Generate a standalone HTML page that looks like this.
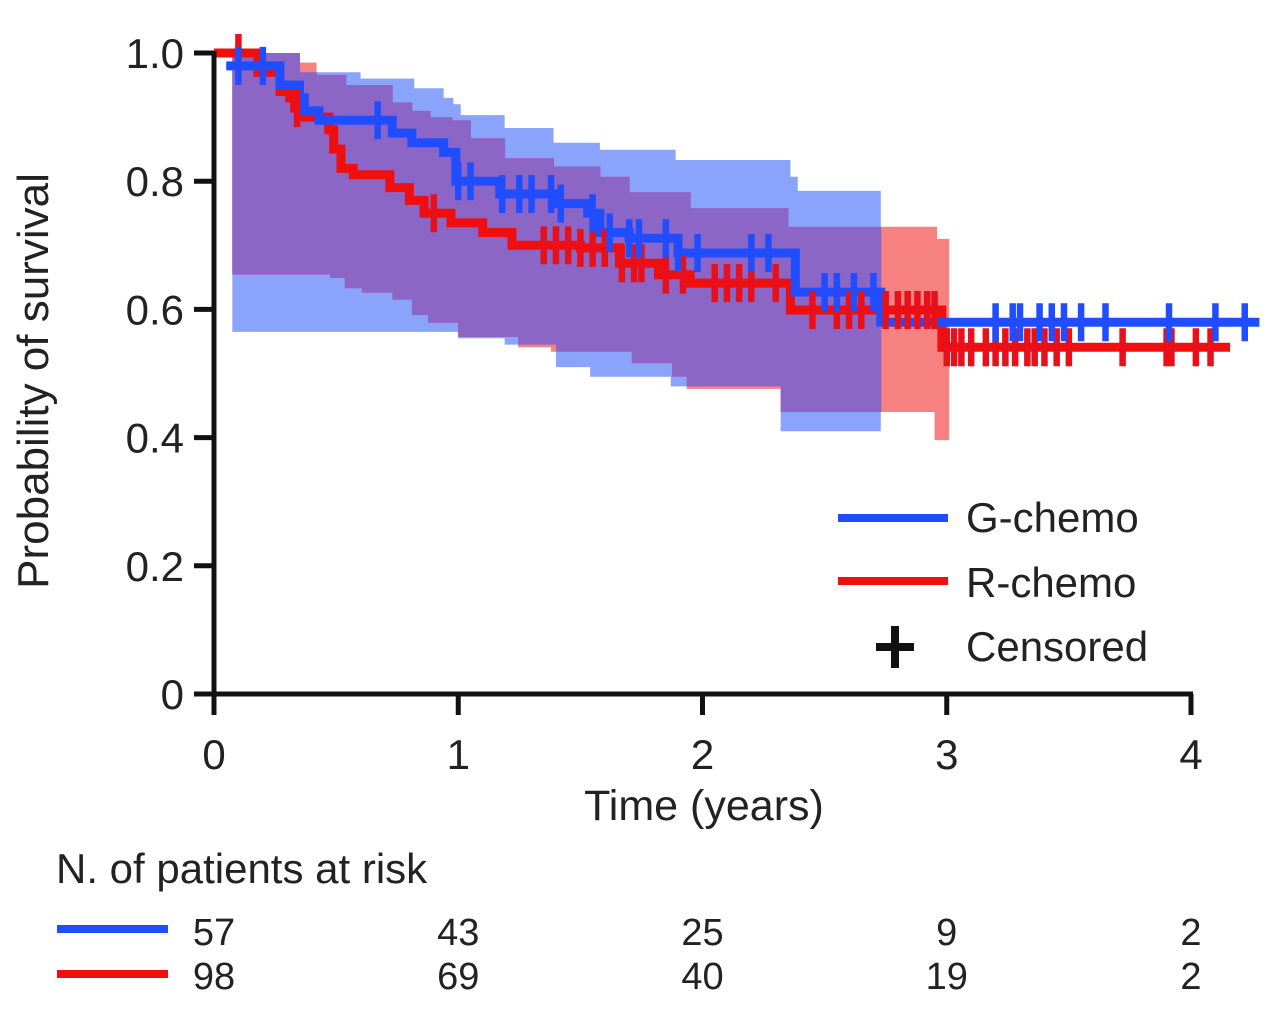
<!DOCTYPE html>
<html><head><meta charset="utf-8">
<style>
html,body{margin:0;padding:0;background:#fff;}
svg{display:block;font-family:"Liberation Sans",Arial,sans-serif;}
</style></head>
<body>
<svg id="chart" width="1280" height="1023" viewBox="0 0 1280 1023" xmlns="http://www.w3.org/2000/svg">
  <g id="bands"></g>
  <g id="curves"></g>
  <g id="censors"></g>
  <g id="axes"></g>
  <text transform="translate(48,381) rotate(-90)" text-anchor="middle" font-size="44" fill="#222">Probability of survival</text>
  <text x="704" y="820" text-anchor="middle" font-size="43" fill="#222">Time (years)</text>
  <g>
    <line x1="838" y1="518" x2="948" y2="518" stroke="#1f4dff" stroke-width="8"/>
    <text x="966" y="532" font-size="42" fill="#222">G-chemo</text>
    <line x1="838" y1="581" x2="948" y2="581" stroke="#f00f0f" stroke-width="8"/>
    <text x="966" y="597" font-size="42" fill="#222">R-chemo</text>
    <path d="M895 626 V668 M876 647 H914" stroke="#111" stroke-width="8"/>
    <text x="966" y="661" font-size="42" fill="#222">Censored</text>
  </g>
  <text x="56" y="883" font-size="42" fill="#222">N. of patients at risk</text>
  <line x1="57" y1="929" x2="168" y2="929" stroke="#1f4dff" stroke-width="8"/>
  <line x1="57" y1="974" x2="168" y2="974" stroke="#f00f0f" stroke-width="8"/>
  <g id="atrisk"></g>
</svg>
<script>
const xTicks = [0, 1, 2, 3, 4];
const yTicks = [0, 0.2, 0.4, 0.6, 0.8, 1.0];
const yTickLabels = ["0", "0.2", "0.4", "0.6", "0.8", "1.0"];
// step functions: [time, value]
const blueSurv = [[0.05,0.98],[0.27,0.95],[0.35,0.93],[0.37,0.91],[0.43,0.895],[0.73,0.875],[0.81,0.86],[0.94,0.845],[0.99,0.80],[1.17,0.78],[1.40,0.765],[1.53,0.75],[1.58,0.72],[1.70,0.711],[1.90,0.688],[2.38,0.627],[2.73,0.58],[4.28,0.58]];
const redSurv = [[0,1.0],[0.18,0.97],[0.27,0.94],[0.31,0.93],[0.33,0.914],[0.37,0.90],[0.47,0.88],[0.49,0.85],[0.52,0.82],[0.57,0.81],[0.72,0.79],[0.8,0.77],[0.86,0.75],[0.97,0.735],[1.1,0.72],[1.22,0.70],[1.5,0.696],[1.66,0.672],[1.82,0.654],[1.95,0.641],[2.36,0.599],[2.98,0.541],[4.16,0.541]];
const blueUpper = [[0.075,1.0],[0.35,0.97],[0.6,0.96],[0.82,0.945],[0.94,0.93],[0.98,0.92],[1.01,0.903],[1.19,0.883],[1.39,0.86],[1.58,0.849],[1.89,0.833],[2.36,0.807],[2.39,0.785],[2.73,null]];
const blueLower = [[0.075,0.565],[1.0,0.555],[1.19,0.545],[1.4,0.51],[1.54,0.495],[1.87,0.48],[2.32,0.41],[2.73,null]];
const redUpper = [[0.075,1.0],[0.35,0.985],[0.42,0.966],[0.54,0.95],[0.73,0.923],[0.81,0.91],[0.885,0.90],[0.975,0.895],[1.05,0.867],[1.19,0.836],[1.39,0.823],[1.58,0.807],[1.70,0.783],[1.95,0.758],[2.35,0.729],[2.96,0.71],[3.01,null]];
const redLower = [[0.075,0.654],[0.475,0.649],[0.535,0.633],[0.605,0.626],[0.73,0.615],[0.81,0.591],[0.876,0.579],[0.999,0.557],[1.245,0.541],[1.38,0.534],[1.71,0.516],[1.875,0.495],[1.935,0.476],[2.32,0.44],[2.95,0.396],[3.01,null]];
const blueCensor = [0.1,0.2,0.67,1.0,1.05,1.18,1.25,1.3,1.38,1.42,1.55,1.62,1.7,1.74,1.85,1.9,1.98,2.2,2.27,2.5,2.55,2.62,2.7,3.2,3.27,3.3,3.38,3.43,3.48,3.55,3.65,3.91,4.1,4.22];
const redCensor = [0.1,0.34,0.9,1.35,1.4,1.45,1.5,1.55,1.6,1.67,1.72,1.75,1.85,1.92,2.05,2.1,2.15,2.2,2.3,2.45,2.55,2.6,2.65,2.75,2.8,2.84,2.88,2.92,2.95,3.0,3.03,3.06,3.1,3.16,3.2,3.24,3.28,3.33,3.36,3.4,3.45,3.5,3.72,3.9,3.92,4.02,4.08];
const riskG = ["57","43","25","9","2"];
const riskR = ["98","69","40","19","2"];

function X(t){return 214 + t*244.25;}
function Y(s){return 694 - s*641;}
function stepVal(arr,t){let v=arr[0][1];for(const p of arr){if(p[0]<=t)v=p[1];else break;}return v;}
const NS="http://www.w3.org/2000/svg";
function mk(tag,parent,attrs){const e=document.createElementNS(NS,tag);for(const k in attrs)e.setAttribute(k,attrs[k]);parent.appendChild(e);return e;}

function stepPath(arr){let d="M"+X(arr[0][0])+" "+Y(arr[0][1]);for(let i=1;i<arr.length;i++){const v=arr[i][1]===null?arr[i-1][1]:arr[i][1];d+=" H"+X(arr[i][0])+" V"+Y(v);}return d;}
function bandPath(up,lo){
  const times=[...new Set([...up.map(p=>p[0]),...lo.map(p=>p[0])])].sort((a,b)=>a-b);
  let top="",bot=[];
  for(let i=0;i<times.length-1;i++){
    const t0=times[i],t1=times[i+1],u=stepVal(up,t0),l=stepVal(lo,t0);
    if(u===null||l===null||u<=l)continue;
    top+=(top?" L":"M")+X(t0)+" "+Y(u)+" L"+X(t1)+" "+Y(u);
    bot.unshift(X(t1)+" "+Y(l)+" L"+X(t0)+" "+Y(l));
  }
  return top+" L"+bot.join(" L")+" Z";
}
const bands=document.getElementById('bands');
let p=mk('path',bands,{d:bandPath(blueUpper,blueLower),fill:'#8aa4fb'});


p=mk('path',bands,{d:bandPath(redUpper,redLower),fill:'#f78080'});


{
  const times=[...new Set([...blueUpper,...blueLower,...redUpper,...redLower].map(q=>q[0]))].sort((a,b)=>a-b);
  let d="";
  for(let i=0;i<times.length-1;i++){
    const t=times[i];
    const bu=stepVal(blueUpper,t),bl=stepVal(blueLower,t),ru=stepVal(redUpper,t),rl=stepVal(redLower,t);
    if([bu,bl,ru,rl].some(v=>v===null))continue;
    const u=Math.min(bu,ru),l=Math.max(bl,rl);
    if(u<=l)continue;
    d+="M"+X(t)+" "+Y(u)+" H"+(X(times[i+1])+0.5)+" V"+Y(l)+" H"+X(t)+" Z ";
  }
  p=mk('path',bands,{d:d,fill:'#8c66c6'});
  
  
}
const curves=document.getElementById('curves');
p=mk('path',curves,{d:stepPath(redSurv),fill:'none',stroke:'#f00f0f','stroke-width':9});


p=mk('path',curves,{d:stepPath(blueSurv),fill:'none',stroke:'#1f4dff','stroke-width':9});


const cens=document.getElementById('censors');
redCensor.forEach(t=>{const y=Y(stepVal(redSurv,t));const l=mk('line',cens,{x1:X(t),x2:X(t),y1:y-19,y2:y+19,stroke:'#e8101a','stroke-width':6.5});

});
blueCensor.forEach(t=>{const y=Y(stepVal(blueSurv,t));const l=mk('line',cens,{x1:X(t),x2:X(t),y1:y-19,y2:y+19,stroke:'#1f4dff','stroke-width':6.5});

});
const axes=document.getElementById('axes');
let a=mk('line',axes,{x1:214,y1:Y(1)-2,x2:214,y2:696,stroke:'#111','stroke-width':5});


a=mk('line',axes,{x1:212,y1:694,x2:1193,y2:694,stroke:'#111','stroke-width':5});


yTicks.forEach((v,i)=>{
  const t=mk('line',axes,{x1:194,x2:214,y1:Y(v),y2:Y(v),stroke:'#111','stroke-width':5});
  
  
  const tx=mk('text',axes,{x:184,y:Y(v)+15,'text-anchor':'end','font-size':42,fill:'#222'});
  tx.textContent=yTickLabels[i];
  
  
});
xTicks.forEach(v=>{
  const t=mk('line',axes,{x1:X(v),x2:X(v),y1:694,y2:715,stroke:'#111','stroke-width':5});
  
  
  const tx=mk('text',axes,{x:X(v),y:769,'text-anchor':'middle','font-size':42,fill:'#222'});
  tx.textContent=String(v);
  
  
});
const ar=document.getElementById('atrisk');
xTicks.forEach((v,i)=>{
  let tx=mk('text',ar,{x:X(v),y:945,'text-anchor':'middle','font-size':38,fill:'#222'});
  tx.textContent=riskG[i];
  
  
  tx=mk('text',ar,{x:X(v),y:989,'text-anchor':'middle','font-size':38,fill:'#222'});
  tx.textContent=riskR[i];
  
  
});
</script>
</body></html>
